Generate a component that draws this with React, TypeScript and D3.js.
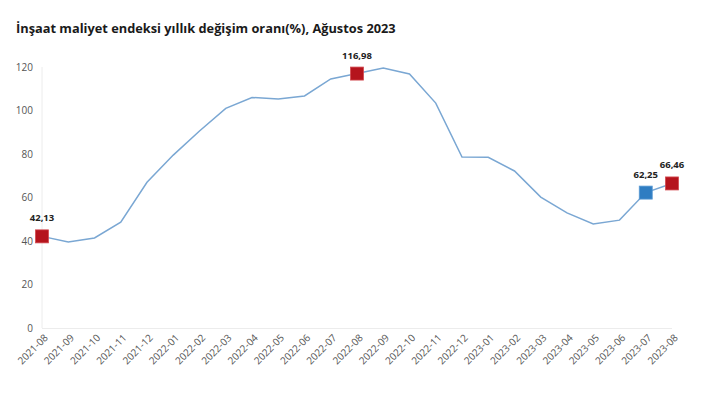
import React, { useEffect, useRef } from 'react';
import * as d3 from 'd3';

const months = [
  '2021-08', '2021-09', '2021-10', '2021-11', '2021-12',
  '2022-01', '2022-02', '2022-03', '2022-04', '2022-05', '2022-06', '2022-07', '2022-08',
  '2022-09', '2022-10', '2022-11', '2022-12',
  '2023-01', '2023-02', '2023-03', '2023-04', '2023-05', '2023-06', '2023-07', '2023-08',
];
const values = [
  42.13, 39.5, 41.4, 48.7, 67.0,
  79.5, 90.6, 101.0, 106.0, 105.3, 106.7, 114.5, 116.98,
  119.5, 116.8, 103.4, 78.6,
  78.5, 72.2, 60.2, 52.9, 47.8, 49.6, 62.25, 66.46,
];
// highlighted points: index, colour key
const highlights = [
  { i: 0, kind: 'red' },
  { i: 12, kind: 'red' },
  { i: 23, kind: 'blue' },
  { i: 24, kind: 'red' },
];
const yTicks = [0, 20, 40, 60, 80, 100, 120];

const App = () => {
  const svgRef = useRef(null);

  useEffect(() => {
    const width = 703;
    const height = 397;
    const margin = { top: 67, right: 31, bottom: 69, left: 42 };

    const svg = d3.select(svgRef.current);
    svg.selectAll('*').remove();
    svg.attr('width', width).attr('height', height);

    svg.append('text')
      .attr('x', 16)
      .attr('y', 33)
      .style('font-family', '"Open Sans", sans-serif')
      .style('font-weight', 'bold')
      .style('font-size', '12.8px')
      .attr('fill', '#1a1a1a')
      .text('İnşaat maliyet endeksi yıllık değişim oranı(%), Ağustos 2023');

    const x = d3.scalePoint()
      .domain(months)
      .range([margin.left, width - margin.right]);

    const y = d3.scaleLinear()
      .domain([0, 120])
      .range([height - margin.bottom, margin.top]);

    // axis lines
    svg.append('line')
      .attr('x1', margin.left).attr('x2', margin.left)
      .attr('y1', y(120)).attr('y2', y(0))
      .attr('stroke', '#ececec');
    svg.append('line')
      .attr('x1', margin.left).attr('x2', width - margin.right)
      .attr('y1', y(0) + 0.5).attr('y2', y(0) + 0.5)
      .attr('stroke', '#ececec');

    svg.append('g')
      .selectAll('text')
      .data(yTicks)
      .enter()
      .append('text')
      .attr('x', 33)
      .attr('y', (d) => y(d))
      .attr('dy', '0.35em')
      .attr('text-anchor', 'end')
      .style('font-family', '"Open Sans", sans-serif')
      .style('font-size', '10px')
      .attr('fill', '#555')
      .text((d) => d);

    svg.append('g')
      .selectAll('text')
      .data(months)
      .enter()
      .append('text')
      .attr('transform', (d) => `translate(${x(d) + 4}, ${y(0) + 8}) rotate(-45)`)
      .attr('text-anchor', 'end')
      .attr('dy', '0.35em')
      .style('font-family', '"Open Sans", sans-serif')
      .style('font-size', '10px')
      .attr('fill', '#555')
      .text((d) => d);

    const line = d3.line()
      .x((d, i) => x(months[i]))
      .y((d) => y(d));

    svg.append('path')
      .datum(values)
      .attr('d', line)
      .attr('fill', 'none')
      .attr('stroke', '#7aa7d3')
      .attr('stroke-width', 1.5);

    const size = 13;
    const colors = { red: '#b5141d', blue: '#2f7dc2' };

    svg.append('g')
      .selectAll('rect')
      .data(highlights)
      .enter()
      .append('rect')
      .attr('x', (d) => x(months[d.i]) - size / 2)
      .attr('y', (d) => y(values[d.i]) - size / 2)
      .attr('width', size)
      .attr('height', size)
      .attr('fill', (d) => colors[d.kind])
      .attr('stroke', (d) => (d.kind === 'red' ? '#d34a50' : '#5a9ad4'))
      .attr('stroke-width', 0.8);

    svg.append('g')
      .selectAll('text')
      .data(highlights)
      .enter()
      .append('text')
      .attr('x', (d) => x(months[d.i]))
      .attr('y', (d) => y(values[d.i]) - 15)
      .attr('text-anchor', 'middle')
      .style('font-family', '"Open Sans", sans-serif')
      .style('font-weight', 'bold')
      .style('font-size', '9.5px')
      .attr('fill', '#222')
      .text((d) => values[d.i].toFixed(2).replace('.', ','));
  }, []);

  return (
    <div style={{ position: 'absolute', left: 0, top: 0, background: '#fff' }}>
      <svg ref={svgRef}></svg>
    </div>
  );
};

export default App;
